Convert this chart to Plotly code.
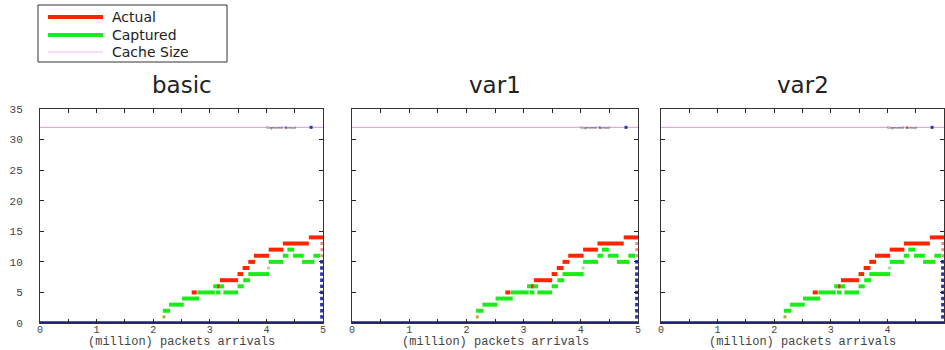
import plotly.graph_objects as go

# ---------------- data ----------------
panel_titles = ["basic", "var1", "var2"]
x_tick_vals = [0, 0.5, 1, 1.5, 2, 2.5, 3, 3.5, 4, 4.5, 5]
x_tick_text = ["0", "", "1", "", "2", "", "3", "", "4", "", "5"]
y_tick_vals = [0, 5, 10, 15, 20, 25, 30, 35]
cache_size = 32

# "Actual" step segments: start, end (million packets), value
actual_x0 = [2.68, 3.13, 3.18, 3.49, 3.58, 3.68, 3.78, 4.04, 4.29, 4.75]
actual_x1 = [2.77, 3.17, 3.50, 3.59, 3.70, 3.80, 4.05, 4.30, 4.75, 5.00]
actual_y = [5, 6, 7, 8, 9, 10, 11, 12, 13, 14]

# "Captured" step segments
captured_x0 = [2.17, 2.28, 2.51, 2.78, 3.11, 3.24, 3.06, 3.49, 3.59, 3.68, 4.04, 4.63, 4.29, 4.47, 4.83, 4.37]
captured_x1 = [2.30, 2.54, 2.81, 3.09, 3.19, 3.50, 3.25, 3.60, 3.71, 4.05, 4.30, 4.85, 4.39, 4.66, 4.95, 4.49]
captured_y = [2, 3, 4, 5, 5, 5, 6, 6, 7, 8, 10, 10, 11, 11, 11, 12]

# isolated points
captured_pt_x = [2.19, 4.04]
captured_pt_y = [1, 9]
edge_x = 4.98
edge_blue_y = [1, 2, 3, 4, 5, 6, 7, 8, 9, 10]
edge_red_y = [11, 12, 13]
baseline_x = [0, 5]
baseline_y = [0, 0]

# ---------------- layout geometry (pixels) ----------------
W, H = 945, 350
panels_px = [(40, 323), (352, 638), (661, 944)]
y_top_px, y_bot_px = 109, 323


def fx(px):
    return px / W


def fy(py):
    return 1 - py / H


def seg_xy(x0s, x1s, ys):
    xs, yv = [], []
    for a, b, v in zip(x0s, x1s, ys):
        xs += [a, b, None]
        yv += [v, v, None]
    return xs, yv


RED = "#ff2400"
GREEN = "#19ec19"
NAVY = "#1b1f8a"
PINK_LINE = "#d49ad8"
MONO = "Liberation Mono, Courier New, monospace"
SANS = "DejaVu Sans, Arial, sans-serif"

fig = go.Figure()
ax_x, ax_y = seg_xy(actual_x0, actual_x1, actual_y)
cx_x, cx_y = seg_xy(captured_x0, captured_x1, captured_y)

for i in range(3):
    xa = "x" if i == 0 else f"x{i+1}"
    ya = "y" if i == 0 else f"y{i+1}"
    fig.add_trace(go.Scatter(x=[0, 5], y=[cache_size, cache_size], mode="lines",
                             line=dict(color=PINK_LINE, width=1), xaxis=xa, yaxis=ya,
                             showlegend=False, hoverinfo="skip"))
    fig.add_trace(go.Scatter(x=cx_x, y=cx_y, mode="lines",
                             line=dict(color=GREEN, width=4), xaxis=xa, yaxis=ya,
                             showlegend=False))
    fig.add_trace(go.Scatter(x=ax_x, y=ax_y, mode="lines",
                             line=dict(color=RED, width=4), xaxis=xa, yaxis=ya,
                             showlegend=False))
    fig.add_trace(go.Scatter(x=captured_pt_x, y=captured_pt_y, mode="markers",
                             marker=dict(color=["#b5a82a", "#9be39b"], size=3, symbol="square"),
                             xaxis=xa, yaxis=ya, showlegend=False))
    fig.add_trace(go.Scatter(x=[edge_x] * len(edge_red_y), y=edge_red_y, mode="markers",
                             marker=dict(color="#f08a80", size=3, symbol="square"),
                             xaxis=xa, yaxis=ya, showlegend=False, cliponaxis=False))
    fig.add_trace(go.Scatter(x=[edge_x] * len(edge_blue_y), y=edge_blue_y, mode="markers",
                             marker=dict(color="#2a35b5", size=3.5, symbol="square"),
                             xaxis=xa, yaxis=ya, showlegend=False, cliponaxis=False))
    fig.add_trace(go.Scatter(x=[4.79], y=[cache_size], mode="markers",
                             marker=dict(color="#3030b0", size=3, symbol="square"),
                             xaxis=xa, yaxis=ya, showlegend=False))
    fig.add_trace(go.Scatter(x=baseline_x, y=baseline_y, mode="lines",
                             line=dict(color=NAVY, width=3.5), xaxis=xa, yaxis=ya,
                             showlegend=False, cliponaxis=False))

    l, r = panels_px[i]
    ticktext = list(x_tick_text)
    if i == 2:
        ticktext[-1] = ""
    fig.update_layout(**{
        ("xaxis" if i == 0 else f"xaxis{i+1}"): dict(
            domain=[fx(l), fx(r)], range=[0, 5], anchor=ya, automargin=False,
            tickmode="array", tickvals=x_tick_vals, ticktext=ticktext,
            ticks="inside", ticklen=4, tickcolor="#222", showline=True, linecolor="#333",
            linewidth=1, mirror="ticks", showgrid=False, zeroline=False,
            tickfont=dict(family=MONO, size=10, color="#444"), ticklabelstandoff=-3),
        ("yaxis" if i == 0 else f"yaxis{i+1}"): dict(
            domain=[fy(y_bot_px), fy(y_top_px)], range=[0, 35], anchor=xa, automargin=False,
            tickmode="array", tickvals=y_tick_vals, showticklabels=(i == 0),
            ticks="inside", ticklen=4, tickcolor="#222", showline=True, linecolor="#333",
            linewidth=1, mirror="ticks", showgrid=False, zeroline=False,
            tickfont=dict(family=MONO, size=11, color="#444"), ticklabelstandoff=14),
    })

annotations = []
for i, (l, r) in enumerate(panels_px):
    cx = (l + r) / 2
    annotations.append(dict(x=fx(cx), y=fy(85), xref="paper", yref="paper", text=panel_titles[i],
                            showarrow=False, font=dict(family=SANS, size=23, color="#222"),
                            xanchor="center", yanchor="middle"))
    annotations.append(dict(x=fx(cx), y=fy(342.3), xref="paper", yref="paper",
                            text="(million) packets arrivals", showarrow=False,
                            font=dict(family=MONO, size=12, color="#444"),
                            xanchor="center", yanchor="middle"))
    xa = "x" if i == 0 else f"x{i+1}"
    ya = "y" if i == 0 else f"y{i+1}"
    annotations.append(dict(x=4.25, y=cache_size, xref=xa, yref=ya, text="Captured  Actual",
                            showarrow=False, font=dict(family="Liberation Sans", size=4, color="#553355"),
                            xanchor="center", yanchor="middle"))

legend_items = ["Actual", "Captured", "Cache Size"]
legend_colors = [RED, GREEN, "#ffb0ff"]
legend_widths = [4, 4, 1]
legend_rows_px = [17, 35, 52]
shapes = [dict(type="rect", xref="paper", yref="paper", x0=fx(38), x1=fx(227), y0=fy(62), y1=fy(5),
               line=dict(color="#333", width=1), fillcolor="white")]
for name, col, w, row in zip(legend_items, legend_colors, legend_widths, legend_rows_px):
    shapes.append(dict(type="line", xref="paper", yref="paper", x0=fx(48), x1=fx(103),
                       y0=fy(row), y1=fy(row), line=dict(color=col, width=w)))
    annotations.append(dict(x=fx(110), y=fy(row), xref="paper", yref="paper", text=name,
                            showarrow=False, xanchor="left", yanchor="middle",
                            font=dict(family=SANS, size=14, color="#222")))

fig.update_layout(width=W, height=H, autosize=False, margin=dict(l=0, r=0, t=0, b=0, pad=0),
                  plot_bgcolor="white", paper_bgcolor="white", showlegend=False,
                  annotations=annotations, shapes=shapes)

post = (
    "document.documentElement.style.margin='0';document.documentElement.style.padding='0';"
    "document.documentElement.style.overflow='hidden';"
    "document.body.style.margin='0';document.body.style.padding='0';document.body.style.overflow='hidden';"
    "var gd=document.getElementsByClassName('plotly-graph-div')[0];"
    "gd.style.position='fixed';gd.style.left='0px';gd.style.top='0px';"
)
fig.write_html("out.html", config={"displayModeBar": False}, post_script=post)
